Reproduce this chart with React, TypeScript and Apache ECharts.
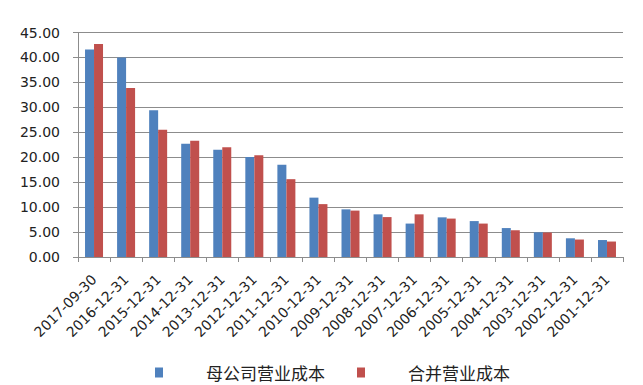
import React, { useEffect, useRef } from "react";
import * as echarts from "echarts";

const categories = [
  "2017-09-30", "2016-12-31", "2015-12-31", "2014-12-31", "2013-12-31", "2012-12-31",
  "2011-12-31", "2010-12-31", "2009-12-31", "2008-12-31", "2007-12-31", "2006-12-31",
  "2005-12-31", "2004-12-31", "2003-12-31", "2002-12-31", "2001-12-31",
];
const parentCost = [41.6, 40.0, 29.4, 22.7, 21.5, 20.05, 18.5, 11.9, 9.55, 8.55, 6.7, 7.95, 7.2, 5.8, 4.95, 3.75, 3.4];
const mergedCost = [42.7, 33.9, 25.5, 23.3, 22.0, 20.4, 15.6, 10.6, 9.3, 8.0, 8.55, 7.7, 6.7, 5.35, 4.9, 3.5, 3.1];
const seriesNames = ["母公司营业成本", "合并营业成本"];
const yTicks = { min: 0, max: 45, interval: 5 };

export default function App() {
  const ref = useRef<HTMLDivElement>(null);
  useEffect(() => {
    if (!ref.current) return;
    const chart = echarts.init(ref.current, null, { renderer: "svg" });
    const textColor = "#222222";
    const gridColor = "#8c8c8c";
    chart.setOption({
      animation: false,
      backgroundColor: "#ffffff",
      color: ["#4F81BD", "#C0504D"],
      grid: { left: 78, right: 20, top: 32.5, bottom: 128, containLabel: false },
      legend: {
        data: seriesNames,
        left: 150,
        top: 359,
        itemWidth: 8,
        itemHeight: 10,
        itemGap: 32,
        icon: "rect",
        textStyle: {
          fontFamily: "Noto Sans CJK SC",
          fontSize: 17,
          color: textColor,
          padding: [0, 0, 0, 38],
        },
      },
      xAxis: {
        type: "category",
        data: categories,
        axisLine: { show: true, lineStyle: { color: gridColor, width: 1 } },
        axisTick: { show: true, length: 5, alignWithLabel: false, lineStyle: { color: gridColor } },
        axisLabel: {
          rotate: 45,
          interval: 0,
          margin: 20,
          fontFamily: "DejaVu Sans",
          fontSize: 14,
          color: textColor,
        },
      },
      yAxis: {
        type: "value",
        min: yTicks.min,
        max: yTicks.max,
        interval: yTicks.interval,
        axisLine: { show: true, lineStyle: { color: gridColor, width: 1 } },
        axisTick: { show: true, length: 5, lineStyle: { color: gridColor } },
        splitLine: { show: true, lineStyle: { color: gridColor, width: 1 } },
        axisLabel: {
          margin: 18,
          fontFamily: "DejaVu Sans",
          fontSize: 14,
          color: textColor,
          formatter: (v: number) => v.toFixed(2),
        },
      },
      series: [
        { name: seriesNames[0], type: "bar", data: parentCost, barWidth: 9, barGap: "0%" },
        { name: seriesNames[1], type: "bar", data: mergedCost, barWidth: 9, barGap: "0%" },
      ],
    });
    return () => chart.dispose();
  }, []);
  return <div ref={ref} style={{ width: 643, height: 385, position: "absolute", left: 0, top: 0 }} />;
}
